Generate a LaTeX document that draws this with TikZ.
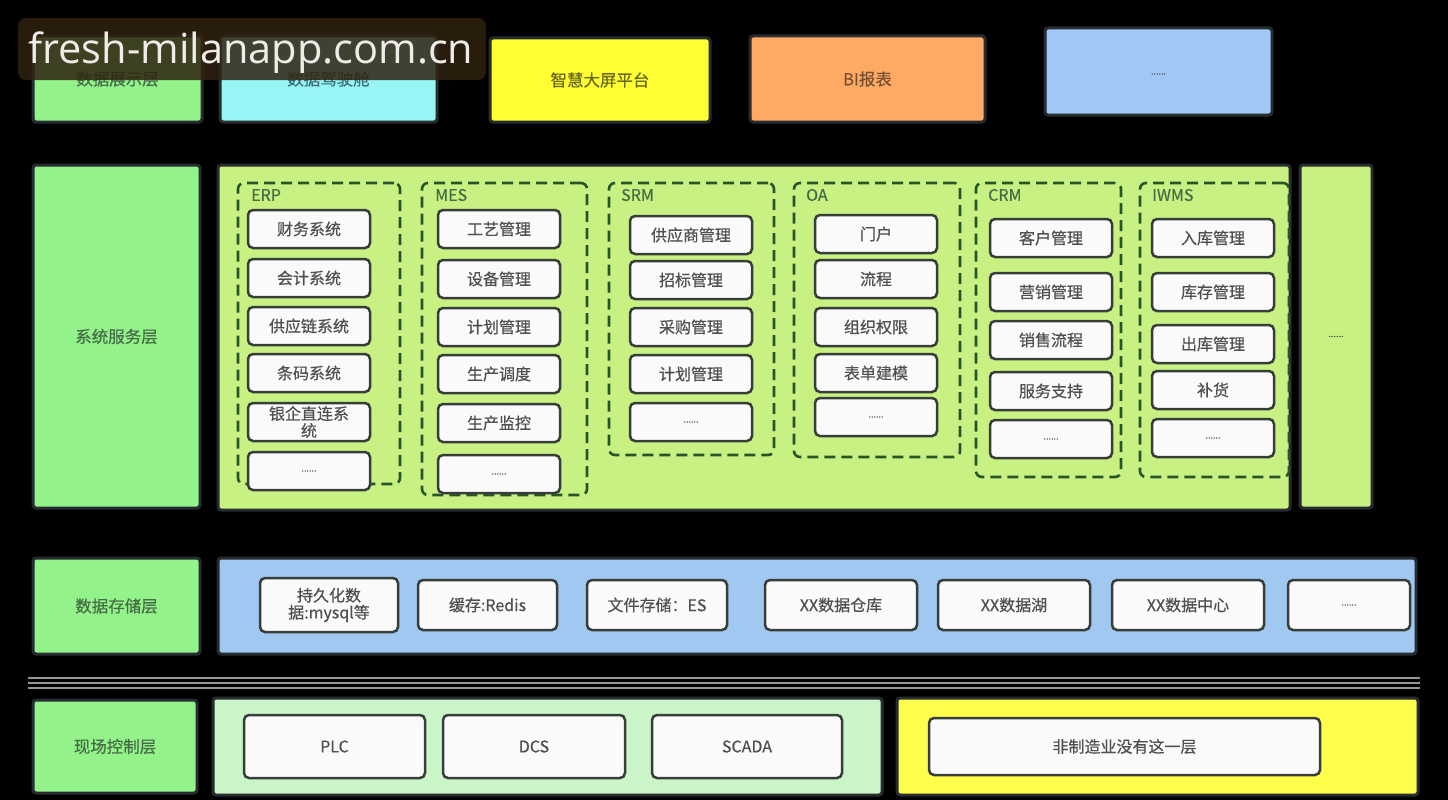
\documentclass[tikz,border=0pt]{standalone}
\usepackage{fontspec}
\setmainfont{Noto Sans CJK SC}[FakeBold=0.5]
\newfontfamily\wmfont{Open Sans}
\definecolor{edge}{RGB}{38,44,48}
\definecolor{itemedge}{RGB}{55,62,58}
\definecolor{itemfill}{RGB}{250,250,250}
\definecolor{itemtext}{RGB}{80,80,80}
\definecolor{lgreen}{RGB}{148,242,138}
\definecolor{lcyan}{RGB}{152,245,245}
\definecolor{lyellow}{RGB}{255,255,50}
\definecolor{lorange}{RGB}{255,170,100}
\definecolor{lblue}{RGB}{160,200,245}
\definecolor{ygreen}{RGB}{200,240,130}
\definecolor{sblue}{RGB}{160,200,240}
\definecolor{pgreen}{RGB}{202,245,200}
\definecolor{pyellow}{RGB}{255,255,75}
\definecolor{grpc}{RGB}{40,85,40}
\definecolor{gtext}{RGB}{70,110,70}
\definecolor{wmbg}{RGB}{48,34,16}
\newcommand\bx[7]{\node[#1, minimum width={(#5)-(#3)}, minimum height={(#6)-(#4)}] (#2) at ({((#3)+(#5))/2},{((#4)+(#6))/2}) {#7};}
\newcommand\dd{{\fontsize{9}{9}\selectfont ......}}
\begin{document}
\begin{tikzpicture}[x=1pt,y=-1pt,
  item/.style={draw=itemedge, fill=itemfill, line width=2.5pt, rounded corners=5pt, text=itemtext, font=\fontsize{16}{17}\selectfont, align=center, inner sep=1pt},
  layer/.style={draw=edge, line width=3pt, rounded corners=3pt, text=gtext, font=\fontsize{16.5}{18}\selectfont, align=center, inner sep=1pt},
  grp/.style={draw=grpc, line width=2.6pt, dash pattern=on 11pt off 6pt, rounded corners=6pt, inner sep=0pt},
  gtitle/.style={text=gtext, font=\fontsize{16}{18}\selectfont, anchor=west, inner sep=0pt},
  sepline/.style={draw={rgb,255:red,150;green,150;blue,150}, line width=2.8pt}
]
\useasboundingbox (0,0) rectangle (1448,800);
\fill[black] (0,0) rectangle (1448,800);

% ---- top row: data display
\bx{layer,fill=lgreen}{show}{33}{36}{202}{122}{\raisebox{-4pt}{数据展示层}}
\bx{layer,fill=lcyan,text={rgb,255:red,60;green,110;blue,120}}{cockpit}{220}{36}{437}{122}{\raisebox{-4pt}{数据驾驶舱}}
\bx{layer,fill=lyellow,text={rgb,255:red,105;green,105;blue,30}}{screen}{490}{38}{710}{122}{智慧大屏平台}
\bx{layer,fill=lorange,text={rgb,255:red,120;green,80;blue,50}}{bi}{750}{36}{985}{122}{BI报表}
\bx{layer,fill=lblue,text=itemtext}{more1}{1045}{28}{1272}{115}{\raisebox{-6pt}{\dd}}

% ---- system service layer
\bx{layer,fill=lgreen}{svc}{33}{165}{200}{508}{系统服务层}
\bx{layer,fill=ygreen}{svcpanel}{218}{165}{1290}{510}{}
\bx{layer,fill=ygreen,text=itemtext}{svcmore}{1300}{165}{1372}{508}{\dd}

% groups
\bx{grp}{gerp}{238}{183}{400}{484}{}
\node[gtitle] (terp) at (251,195) {ERP};
\bx{grp}{gmes}{422}{183}{587}{495}{}
\node[gtitle] (tmes) at (435,195) {MES};
\bx{grp}{gsrm}{609}{183}{774}{455}{}
\node[gtitle] (tsrm) at (621,195) {SRM};
\bx{grp}{goa}{794}{183}{960}{457}{}
\node[gtitle] (toa) at (806,195) {OA};
\bx{grp}{gcrm}{976}{183}{1121}{477}{}
\node[gtitle] (tcrm) at (988,195) {CRM};
\bx{grp}{giwms}{1140}{183}{1289}{477}{}
\node[gtitle] (tiwms) at (1152,195) {IWMS};

\foreach \y/\t [count=\i] in {210/财务系统, 259/会计系统, 307/供应链系统, 354/条码系统, 403/{银企直连系\\统}, 452/\dd}
  {\bx{item}{erp\i}{248}{\y}{370}{\y+38}{\t}}
\foreach \y/\t [count=\i] in {210/工艺管理, 260/设备管理, 308/计划管理, 355/生产调度, 404/生产监控, 455/\dd}
  {\bx{item}{mes\i}{438}{\y}{560}{\y+38}{\t}}
\foreach \y/\t [count=\i] in {216/供应商管理, 261/招标管理, 308/采购管理, 355/计划管理, 403/\dd}
  {\bx{item}{srm\i}{630}{\y}{752}{\y+38}{\t}}
\foreach \y/\t [count=\i] in {215/门户, 260/流程, 308/组织权限, 354/表单建模, 398/\dd}
  {\bx{item}{oa\i}{815}{\y}{937}{\y+38}{\t}}
\foreach \y/\t [count=\i] in {219/客户管理, 273/营销管理, 321/销售流程, 372/服务支持, 420/\dd}
  {\bx{item}{crm\i}{990}{\y}{1112}{\y+38}{\t}}
\foreach \y/\t [count=\i] in {219/入库管理, 273/库存管理, 325/出库管理, 371/补货, 419/\dd}
  {\bx{item}{iwms\i}{1152}{\y}{1274}{\y+38}{\t}}

% ---- data storage layer
\bx{layer,fill=lgreen}{store}{33}{558}{200}{654}{数据存储层}
\bx{layer,fill=sblue}{storepanel}{218}{558}{1416}{654}{}
\bx{item}{st1}{260}{578}{398}{632}{持久化数\\据:mysql等}
\bx{item}{st2}{418}{580}{557}{630}{缓存:Redis}
\bx{item}{st3}{587}{580}{727}{630}{文件存储：ES}
\bx{item}{st4}{765}{580}{917}{630}{XX数据仓库}
\bx{item}{st5}{938}{580}{1090}{630}{XX数据湖}
\bx{item}{st6}{1112}{580}{1264}{630}{XX数据中心}
\bx{item}{st7}{1288}{580}{1410}{630}{\dd}

% ---- separator
\coordinate (s1a) at (28,678); \coordinate (s1b) at (1420,678);
\coordinate (s2a) at (28,683); \coordinate (s2b) at (1420,683);
\coordinate (s3a) at (28,688); \coordinate (s3b) at (1420,688);
\draw[sepline] (s1a) -- (s1b);
\draw[sepline] (s2a) -- (s2b);
\draw[sepline] (s3a) -- (s3b);

% ---- field control layer
\bx{layer,fill=lgreen}{field}{33}{700}{197}{793}{现场控制层}
\bx{layer,fill=pgreen}{fieldpanel}{213}{698}{882}{795}{}
\bx{item}{plc}{244}{715}{425}{778}{PLC}
\bx{item}{dcs}{443}{715}{625}{778}{DCS}
\bx{item}{scada}{652}{715}{842}{778}{SCADA}
\bx{layer,fill=pyellow}{nonpanel}{897}{698}{1418}{795}{}
\bx{item}{nonmfg}{929}{718}{1320}{775}{非制造业没有这一层}

% ---- watermark
\node[fill=wmbg, fill opacity=0.85, rounded corners=8pt, minimum width=468, minimum height=62, inner sep=0pt] (wm) at (252,49) {};
\node[text={rgb,255:red,240;green,236;blue,232}, font=\wmfont\fontsize{41.5}{44}\selectfont, inner sep=0pt] (wmt) at (251,53) {fresh-milanapp.com.cn};
\end{tikzpicture}
\end{document}
